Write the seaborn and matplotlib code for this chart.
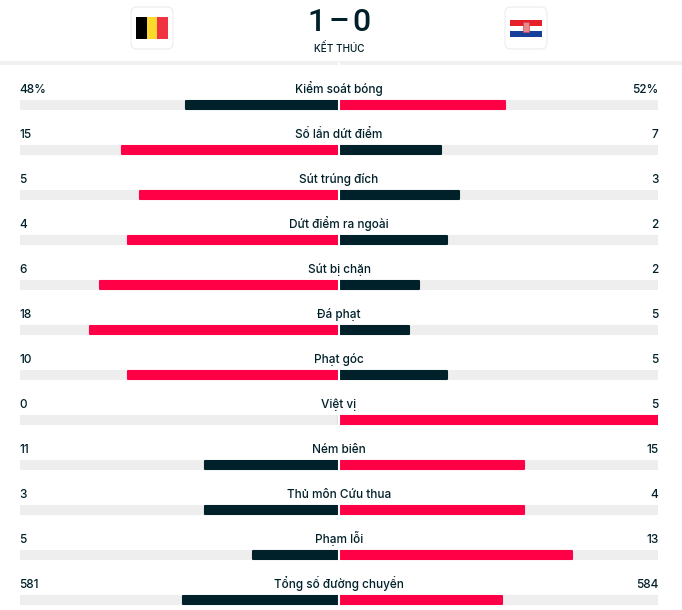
import matplotlib
matplotlib.use("Agg")
import matplotlib.pyplot as plt
import pandas as pd
import seaborn as sns
from matplotlib.patches import FancyBboxPatch, Rectangle

# values
stats = ["Kiểm soát bóng", "Số lần dứt điểm", "Sút trúng đích", "Dứt điểm ra ngoài",
         "Sút bị chặn", "Đá phạt", "Phạt góc", "Việt vị", "Ném biên",
         "Thủ môn Cứu thua", "Phạm lỗi", "Tổng số đường chuyền"]
home_labels = ["48%", "15", "5", "4", "6", "18", "10", "0", "11", "3", "5", "581"]
away_labels = ["52%", "7", "3", "2", "2", "5", "5", "5", "15", "4", "13", "584"]
# bar lengths as a share of the half track
home_share = [0.48, 0.68, 0.625, 0.66, 0.75, 0.78, 0.66, 0.0, 0.42, 0.42, 0.27, 0.49]
away_share = [0.52, 0.32, 0.375, 0.34, 0.25, 0.22, 0.34, 1.0, 0.58, 0.58, 0.73, 0.51]
# which side has the red bar in each row
red_side = ["away", "home", "home", "home", "home", "home", "home",
            "away", "away", "away", "away", "away"]

DARK = "#00202A"
RED = "#FF0046"
TRACK = "#EEEEEE"
W, H = 682, 610
BAR_W = 0.165


def draw_header(fig):
    ax = fig.add_axes([0, 0, 1, 1], zorder=0)
    ax.set_xlim(0, W)
    ax.set_ylim(H, 0)
    ax.axis("off")

    # flag cards
    for x in (131, 505):
        ax.add_patch(FancyBboxPatch((x, 7), 42, 42, boxstyle="round,pad=0,rounding_size=6",
                                    fc="white", ec="#F0F0F0", lw=1))
    # Belgium
    for x, col in zip((136, 147, 157), ("#000000", "#FBD92F", "#EF3340")):
        ax.add_patch(Rectangle((x, 17), 11, 22, fc=col, lw=0))
    # Croatia
    for y, col in zip((20, 25.5, 31), ("#E5202A", "#FFFFFF", "#17409A")):
        ax.add_patch(Rectangle((510, y), 32, 5.5, fc=col, lw=0))
    ax.add_patch(Rectangle((523, 22), 6, 10, fc="#E58A8F", ec="#D9434B", lw=0.5))

    for x, part in zip((316, 339, 361.5), ("1", "–", "0")):
        ax.text(x, 31, part, ha="center", va="baseline", fontsize=23, color=DARK,
                family="Roboto", fontweight="medium")
    ax.text(339, 48.5, "KẾT THÚC", ha="center", va="center", fontsize=7.2, color=DARK,
            fontweight="medium")
    ax.add_patch(Rectangle((0, 61), W, 4, fc="#F0F0F0", lw=0))


def draw_bars(fig):
    # axes runs from the header line to the bottom of the image
    ax = fig.add_axes([20 / W, 0, 638 / W, 548 / H], zorder=1)
    ax.patch.set_alpha(0)

    # one call per side, barplot would average the two if they were in one table
    for side in (-1.0, 1.0):
        track = pd.DataFrame({"stat": stats, "share": [side] * len(stats)})
        sns.barplot(data=track, x="share", y="stat", order=stats, color=TRACK, saturation=1,
                    width=BAR_W, errorbar=None, orient="h", ax=ax)

    home = pd.DataFrame({"stat": stats, "share": [-s for s in home_share],
                         "col": ["red" if s == "home" else "dark" for s in red_side]})
    away = pd.DataFrame({"stat": stats, "share": away_share,
                         "col": ["red" if s == "away" else "dark" for s in red_side]})
    palette = {"red": RED, "dark": DARK}
    for df in (home, away):
        sns.barplot(data=df, x="share", y="stat", order=stats, hue="col", palette=palette,
                    hue_order=["dark", "red"], dodge=False, saturation=1, width=BAR_W,
                    errorbar=None, orient="h", legend=False, ax=ax)

    # rounded corners come from a thin edge with a round join
    for p in ax.patches:
        p.set_edgecolor(p.get_facecolor())
        p.set_linewidth(1.5)
        p.set_joinstyle("round")

    ax.axvline(0, color="white", lw=1.5, zorder=5)
    ax.set_xlim(-1, 1)
    ax.set_ylim((H - 105) / 45, (62 - 105) / 45)
    ax.set_xlabel("")
    ax.set_ylabel("")
    ax.set_xticks([])
    ax.set_yticks([])
    sns.despine(ax=ax, left=True, bottom=True)

    px = 1 / 319
    for i, name in enumerate(stats):
        y = i - 12 / 45
        style = dict(va="baseline", fontsize=8.5, color=DARK, fontweight="medium", zorder=6)
        ax.text(0, y, name, ha="center", **style)
        ax.text(-1 - 1 * px, y, home_labels[i], ha="left", **style)
        ax.text(1 + 0.5 * px, y, away_labels[i], ha="right", **style)


def main():
    sns.set_theme(style="white")
    plt.rcParams["font.family"] = ["Inter", "Roboto", "DejaVu Sans"]
    fig = plt.figure(figsize=(W / 100, H / 100), dpi=100, facecolor="white")
    draw_header(fig)
    draw_bars(fig)
    fig.savefig("out.png", dpi=100)
    plt.close(fig)


if __name__ == "__main__":
    main()
